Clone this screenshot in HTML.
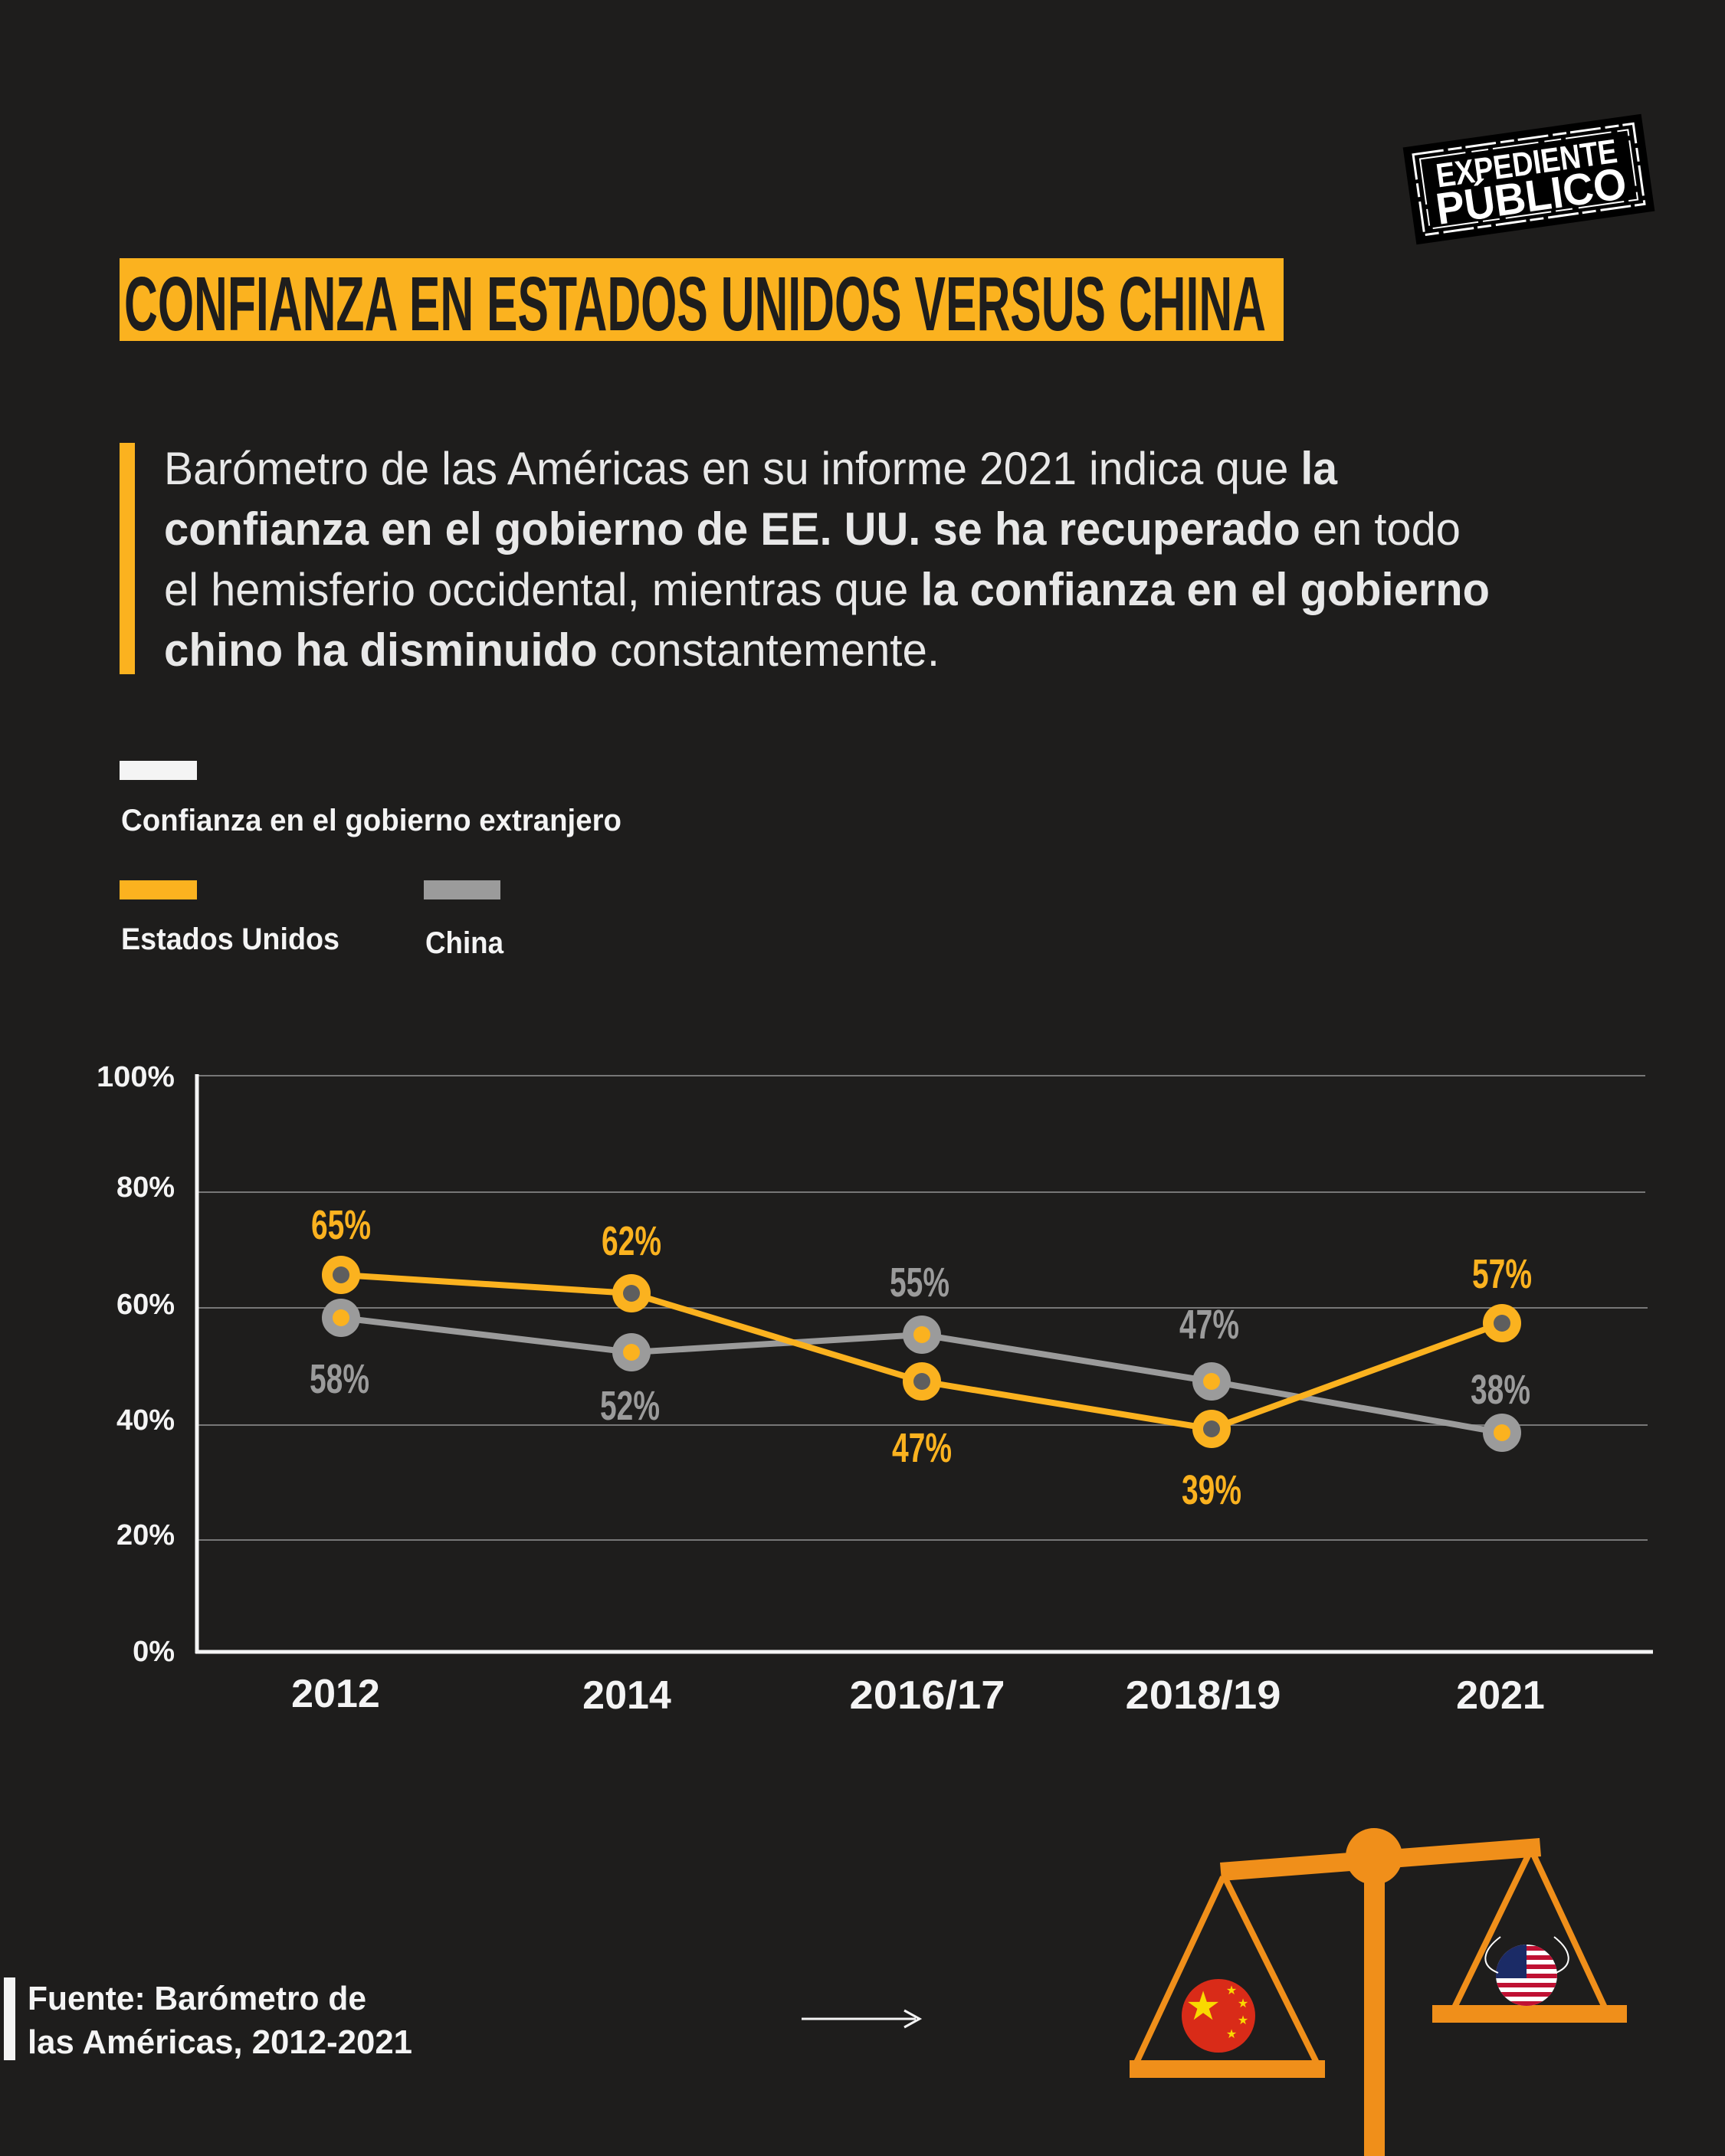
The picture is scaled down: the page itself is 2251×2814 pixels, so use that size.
<!DOCTYPE html>
<html><head><meta charset="utf-8"><style>
html,body{margin:0;padding:0;background:#1e1d1c;}
svg{display:block;}
text{font-family:"Liberation Sans Narrow","Liberation Sans",sans-serif;}
.p{font-family:"Liberation Sans",sans-serif;}
</style></head><body>
<svg width="2251" height="2814" viewBox="0 0 2251 2814" xmlns="http://www.w3.org/2000/svg">
<rect width="2251" height="2814" fill="#1e1d1c"/>

<!-- logo -->
<g transform="rotate(-8 1995 234)">
<rect x="1838" y="170" width="314" height="128" fill="#000"/>
<rect x="1850" y="181" width="290" height="106" fill="none" stroke="#fff" stroke-width="3" stroke-dasharray="40 6 18 5"/>
<rect x="1858" y="188" width="274" height="92" fill="none" stroke="#fff" stroke-width="2" stroke-dasharray="60 8 22 6"/>
<text x="1995" y="228" text-anchor="middle" font-size="44" font-weight="bold" fill="#fff" textLength="238" lengthAdjust="spacingAndGlyphs" style="font-family:'Liberation Sans',sans-serif">EXPEDIENTE</text>
<text x="1995" y="276" text-anchor="middle" font-size="58" font-weight="bold" fill="#fff" textLength="250" lengthAdjust="spacingAndGlyphs" style="font-family:'Liberation Sans',sans-serif">PÚBLICO</text>
</g>

<!-- title -->
<rect x="156" y="337" width="1519" height="108" fill="#fbb21f"/>
<text x="162" y="431" font-size="100" font-weight="bold" fill="#1e1d1c" textLength="1490" lengthAdjust="spacingAndGlyphs">CONFIANZA EN ESTADOS UNIDOS VERSUS CHINA</text>

<!-- paragraph -->
<rect x="156" y="578" width="20" height="302" fill="#fbb21f"/>
<g class="p" font-size="60" fill="#e8e8e8">
<text class="p" x="214" y="632" textLength="1531" lengthAdjust="spacingAndGlyphs">Barómetro de las Américas en su informe 2021 indica que <tspan font-weight="bold">la</tspan></text>
<text class="p" x="214" y="711" textLength="1692" lengthAdjust="spacingAndGlyphs"><tspan font-weight="bold">confianza en el gobierno de EE. UU. se ha recuperado</tspan> en todo</text>
<text class="p" x="214" y="790" textLength="1730" lengthAdjust="spacingAndGlyphs">el hemisferio occidental, mientras que <tspan font-weight="bold">la confianza en el gobierno</tspan></text>
<text class="p" x="214" y="869" textLength="1012" lengthAdjust="spacingAndGlyphs"><tspan font-weight="bold">chino ha disminuido</tspan> constantemente.</text>
</g>

<!-- legend -->
<rect x="156" y="993" width="101" height="25" fill="#f4f4f4"/>
<text x="158" y="1084" font-size="40" font-weight="bold" fill="#f4f4f4" textLength="653" lengthAdjust="spacingAndGlyphs">Confianza en el gobierno extranjero</text>
<rect x="156" y="1149" width="101" height="25" fill="#fbb21f"/>
<rect x="553" y="1149" width="100" height="25" fill="#9b9b9b"/>
<text x="158" y="1239" font-size="40" font-weight="bold" fill="#f4f4f4" textLength="285" lengthAdjust="spacingAndGlyphs">Estados Unidos</text>
<text x="555" y="1244" font-size="40" font-weight="bold" fill="#f4f4f4" textLength="102" lengthAdjust="spacingAndGlyphs">China</text>

<!-- grid -->
<g stroke="#777" stroke-width="2">
<line x1="257" y1="1404" x2="2147" y2="1404"/>
<line x1="257" y1="1556" x2="2147" y2="1556"/>
<line x1="257" y1="1707" x2="2150" y2="1707"/>
<line x1="257" y1="1860" x2="2150" y2="1860"/>
<line x1="257" y1="2010" x2="2150" y2="2010"/>
</g>
<line x1="257" y1="1402" x2="257" y2="2158" stroke="#f4f4f4" stroke-width="5"/>
<line x1="255" y1="2156" x2="2157" y2="2156" stroke="#f4f4f4" stroke-width="5"/>
<g font-size="38" font-weight="bold" fill="#f4f4f4" text-anchor="end">
<text x="228" y="1418" textLength="102" lengthAdjust="spacingAndGlyphs">100%</text>
<text x="228" y="1562">80%</text>
<text x="228" y="1715">60%</text>
<text x="228" y="1866">40%</text>
<text x="228" y="2016">20%</text>
<text x="228" y="2168">0%</text>
</g>
<g font-size="52" font-weight="bold" fill="#f4f4f4" text-anchor="middle">
<text x="438" y="2228">2012</text>
<text x="818" y="2230">2014</text>
<text x="1210" y="2230" textLength="203" lengthAdjust="spacingAndGlyphs">2016/17</text>
<text x="1570" y="2230" textLength="203" lengthAdjust="spacingAndGlyphs">2018/19</text>
<text x="1958" y="2230">2021</text>
</g>

<!-- series -->
<polyline points="445,1720 824,1765 1203,1742 1581,1803 1960,1870" fill="none" stroke="#9b9b9b" stroke-width="8"/>
<polyline points="445,1664 824,1688 1203,1803 1581,1865 1960,1727" fill="none" stroke="#fbb21f" stroke-width="8"/>
<g fill="#9b9b9b">
<circle cx="445" cy="1720" r="25"/><circle cx="824" cy="1765" r="25"/><circle cx="1203" cy="1742" r="25"/><circle cx="1581" cy="1803" r="25"/><circle cx="1960" cy="1870" r="25"/>
</g>
<g fill="#fbb21f">
<circle cx="445" cy="1720" r="11"/><circle cx="824" cy="1765" r="11"/><circle cx="1203" cy="1742" r="11"/><circle cx="1581" cy="1803" r="11"/><circle cx="1960" cy="1870" r="11"/>
<circle cx="445" cy="1664" r="25"/><circle cx="824" cy="1688" r="25"/><circle cx="1203" cy="1803" r="25"/><circle cx="1581" cy="1865" r="25"/><circle cx="1960" cy="1727" r="25"/>
</g>
<g fill="#5e5e5e">
<circle cx="445" cy="1664" r="11"/><circle cx="824" cy="1688" r="11"/><circle cx="1203" cy="1803" r="11"/><circle cx="1581" cy="1865" r="11"/><circle cx="1960" cy="1727" r="11"/>
</g>
<g font-size="54" font-weight="bold" text-anchor="middle" fill="#fbb21f">
<text x="445" y="1617" textLength="78" lengthAdjust="spacingAndGlyphs">65%</text>
<text x="824" y="1638" textLength="78" lengthAdjust="spacingAndGlyphs">62%</text>
<text x="1203" y="1908" textLength="78" lengthAdjust="spacingAndGlyphs">47%</text>
<text x="1581" y="1963" textLength="78" lengthAdjust="spacingAndGlyphs">39%</text>
<text x="1960" y="1681" textLength="78" lengthAdjust="spacingAndGlyphs">57%</text>
</g>
<g font-size="54" font-weight="bold" text-anchor="middle" fill="#9b9b9b">
<text x="443" y="1818" textLength="78" lengthAdjust="spacingAndGlyphs">58%</text>
<text x="822" y="1853" textLength="78" lengthAdjust="spacingAndGlyphs">52%</text>
<text x="1200" y="1692" textLength="78" lengthAdjust="spacingAndGlyphs">55%</text>
<text x="1578" y="1747" textLength="78" lengthAdjust="spacingAndGlyphs">47%</text>
<text x="1958" y="1832" textLength="78" lengthAdjust="spacingAndGlyphs">38%</text>
</g>

<!-- source -->
<rect x="5" y="2581" width="15" height="108" fill="#f4f4f4"/>
<text x="36" y="2623" font-size="44" font-weight="bold" fill="#f4f4f4" textLength="442" lengthAdjust="spacingAndGlyphs">Fuente: Barómetro de</text>
<text x="36" y="2680" font-size="44" font-weight="bold" fill="#f4f4f4" textLength="502" lengthAdjust="spacingAndGlyphs">las Américas, 2012-2021</text>
<line x1="1046" y1="2635" x2="1195" y2="2635" stroke="#f4f4f4" stroke-width="3"/>
<polyline points="1180,2624 1200,2635 1180,2646" fill="none" stroke="#f4f4f4" stroke-width="3"/>

<!-- scale -->
<g fill="#f08f1a" stroke="#f08f1a">
<polygon points="1592,2431 2009,2399 2011,2423 1594,2455" stroke="none"/>
<ellipse cx="1793" cy="2423" rx="37" ry="37" stroke="none"/>
<rect x="1780" y="2440" width="27" height="374" stroke="none"/>
<line x1="1596" y1="2450" x2="1483" y2="2692" stroke-width="8"/>
<line x1="1598" y1="2450" x2="1718" y2="2692" stroke-width="8"/>
<rect x="1474" y="2689" width="255" height="23" stroke="none"/>
<line x1="1996" y1="2418" x2="1898" y2="2620" stroke-width="8"/>
<line x1="2000" y1="2418" x2="2094" y2="2620" stroke-width="8"/>
<rect x="1869" y="2617" width="254" height="23" stroke="none"/>
</g>
<ellipse cx="1590" cy="2631" rx="48" ry="48" fill="#d92b18"/>
<text x="1570" y="2636" font-size="52" fill="#f9d900" text-anchor="middle">★</text>
<g fill="#f9d900" font-size="16" text-anchor="middle"><text x="1607" y="2603">★</text><text x="1622" y="2620">★</text><text x="1622" y="2642">★</text><text x="1607" y="2660">★</text></g>
<clipPath id="us"><ellipse cx="1992" cy="2578" rx="40" ry="40"/></clipPath>
<g clip-path="url(#us)">
<rect x="1950" y="2536" width="84" height="84" fill="#fff"/>
<g fill="#bf1133"><rect x="1950" y="2540" width="84" height="6"/><rect x="1950" y="2552" width="84" height="6"/><rect x="1950" y="2564" width="84" height="6"/><rect x="1950" y="2576" width="84" height="6"/><rect x="1950" y="2588" width="84" height="6"/><rect x="1950" y="2600" width="84" height="6"/><rect x="1950" y="2612" width="84" height="6"/></g>
<rect x="1950" y="2536" width="42" height="46" fill="#1b2b66"/>
</g>
<path d="M1955 2575 C1930 2565 1935 2545 1958 2528 M2030 2575 C2055 2565 2050 2545 2028 2528" fill="none" stroke="#fff" stroke-width="2"/>
</svg>
</body></html>
